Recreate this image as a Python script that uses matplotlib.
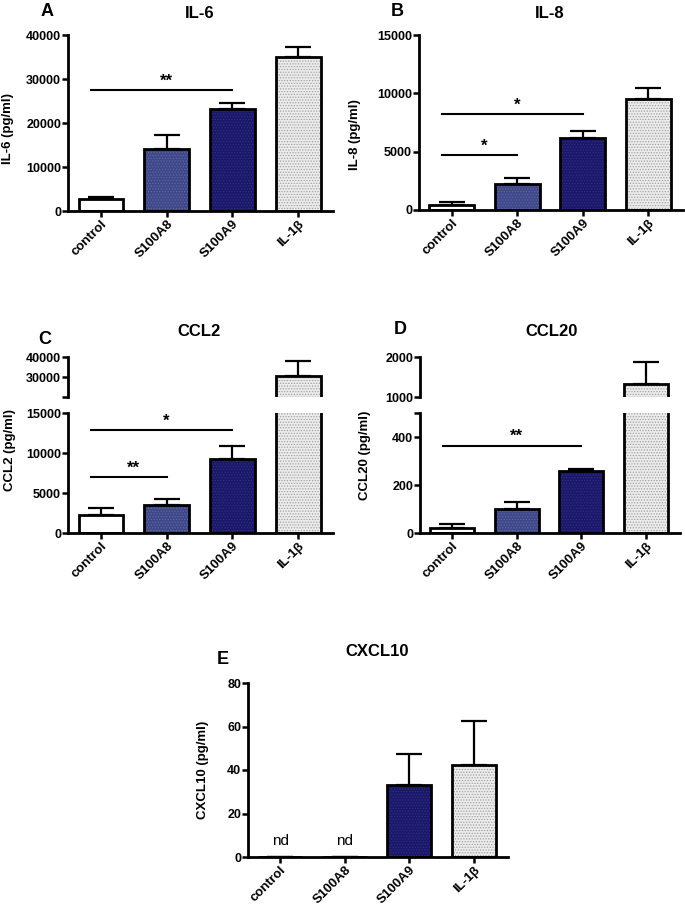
import matplotlib.pyplot as plt
import numpy as np

plt.rcParams['font.family'] = ['Liberation Sans', 'DejaVu Sans']
plt.rcParams['font.weight'] = 'bold'
plt.rcParams['hatch.linewidth'] = 0.6

W, H = 685, 907

groups = ['control', 'S100A8', 'S100A9', 'IL-1β']

il6_mean = [2800, 14200, 23200, 35000]
il6_err = [400, 3100, 1400, 2200]
il6_sig = [(0, 2, 27400, '**')]

il8_mean = [430, 2200, 6200, 9490]
il8_err = [230, 570, 570, 1000]
il8_sig = [(0, 1, 4710, '*'), (0, 2, 8200, '*')]

ccl2_mean = [2270, 3460, 9230, 30650]
ccl2_err = [820, 830, 1650, 7250]
ccl2_sig = [(0, 1, 7000, '**'), (0, 2, 12860, '*')]

ccl20_mean = [20, 99, 259, 1320]
ccl20_err = [17, 30, 8, 557]
ccl20_sig = [(0, 2, 364, '**')]

cxcl10_mean = [0, 0, 33.0, 42.1]
cxcl10_err = [0, 0, 14.5, 20.4]
cxcl10_nd = [True, True, False, False]

faces = ['white', '#3e4788', '#1b186a', '#ececec']
hatch_cols = ['white', '#5f68a5', '#302e85', '#a0a0a0']
hatches = [None, '......', '......', '......']

fig = plt.figure(figsize=(W / 100, H / 100), dpi=100)


def box(l, t, r, b):
    return [l / W, 1 - b / H, (r - l) / W, (b - t) / H]


def style(ax, bottom=True):
    for s in ['top', 'right']:
        ax.spines[s].set_visible(False)
    ax.spines['left'].set_linewidth(2)
    ax.spines['bottom'].set_linewidth(2)
    ax.tick_params(direction='out', length=4, width=1.8, labelsize=9, pad=1)
    ax.set_xlim(-0.5, 3.53)
    if bottom:
        ax.set_xticks(range(len(groups)))
        ax.set_xticklabels(groups, rotation=45, ha='right', va='top',
                           rotation_mode='anchor', fontsize=9.5)
    else:
        ax.spines['bottom'].set_visible(False)
        ax.set_xticks([])


def draw_bars(ax, mean, err):
    x = np.arange(len(groups))
    for i in range(len(groups)):
        ax.bar(x[i], mean[i], width=0.68, color=faces[i], hatch=hatches[i],
               edgecolor=hatch_cols[i], linewidth=0)
    ax.bar(x, mean, width=0.68, facecolor='none', edgecolor='black', linewidth=2)
    ax.errorbar(x, mean, yerr=[np.zeros(len(err)), err], fmt='none',
                ecolor='black', elinewidth=1.6, capsize=9.5, capthick=1.6, zorder=1)


def draw_sig(ax, sig):
    for i0, i1, y, lab in sig:
        ax.plot([i0 - 0.15, i1], [y, y], color='black', lw=1.5)
        ax.annotate(lab, ((i0 + i1) / 2, y), xytext=(0, 1), textcoords='offset points',
                    ha='center', va='bottom', fontsize=12)


def labels(letter, lxy, title, txy, ylab, yxy):
    fig.text(lxy[0] / W, 1 - lxy[1] / H, letter, fontsize=13, ha='center', va='center')
    fig.text(txy[0] / W, 1 - txy[1] / H, title, fontsize=12, ha='center', va='center')
    fig.text(yxy[0] / W, 1 - yxy[1] / H, ylab, fontsize=9.5, rotation=90,
             ha='center', va='center')


# A: IL-6
ax = fig.add_axes(box(68, 35, 333, 211))
draw_bars(ax, il6_mean, il6_err)
draw_sig(ax, il6_sig)
style(ax)
ax.set_ylim(0, 40000)
ax.set_yticks([0, 10000, 20000, 30000, 40000])
labels('A', (47, 12), 'IL-6', (200, 13), 'IL-6 (pg/ml)', (8, 128))

# B: IL-8
ax = fig.add_axes(box(419, 35, 683, 210))
draw_bars(ax, il8_mean, il8_err)
draw_sig(ax, il8_sig)
style(ax)
ax.set_ylim(0, 15000)
ax.set_yticks([0, 5000, 10000, 15000])
labels('B', (397, 11), 'IL-8', (550, 13), 'IL-8 (pg/ml)', (355, 135))

# C: CCL2 (broken axis)
lo = fig.add_axes(box(68, 413, 333, 533))
draw_bars(lo, ccl2_mean, ccl2_err)
draw_sig(lo, ccl2_sig)
style(lo)
lo.set_ylim(0, 15000)
lo.set_yticks([0, 5000, 10000, 15000])
hi = fig.add_axes(box(68, 357, 333, 397))
draw_bars(hi, ccl2_mean, ccl2_err)
style(hi, bottom=False)
hi.set_ylim(20000, 40000)
hi.set_yticks([20000, 30000, 40000])
hi.set_yticklabels(['', '30000', '40000'])
labels('C', (45, 340), 'CCL2', (199, 332), 'CCL2 (pg/ml)', (10, 450))

# D: CCL20 (broken axis)
lo = fig.add_axes(box(420, 413, 680, 533))
draw_bars(lo, ccl20_mean, ccl20_err)
draw_sig(lo, ccl20_sig)
style(lo)
lo.set_ylim(0, 500)
lo.set_yticks([0, 200, 400, 500])
lo.set_yticklabels(['0', '200', '400', ''])
hi = fig.add_axes(box(420, 357, 680, 397))
draw_bars(hi, ccl20_mean, ccl20_err)
style(hi, bottom=False)
hi.set_ylim(1000, 2000)
hi.set_yticks([1000, 2000])
labels('D', (400, 330), 'CCL20', (552, 332), 'CCL20 (pg/ml)', (365, 455))

# E: CXCL10
ax = fig.add_axes(box(248, 683, 508, 857))
draw_bars(ax, cxcl10_mean, cxcl10_err)
style(ax)
ax.set_ylim(0, 80)
ax.set_yticks([0, 20, 40, 60, 80])
for i, nd in enumerate(cxcl10_nd):
    if nd:
        ax.text(i, 4, 'nd', ha='center', va='bottom', fontsize=11, fontweight='normal')
labels('E', (223, 660), 'CXCL10', (377, 652), 'CXCL10 (pg/ml)', (203, 770))

fig.savefig('out.png', dpi=100, facecolor='white')
